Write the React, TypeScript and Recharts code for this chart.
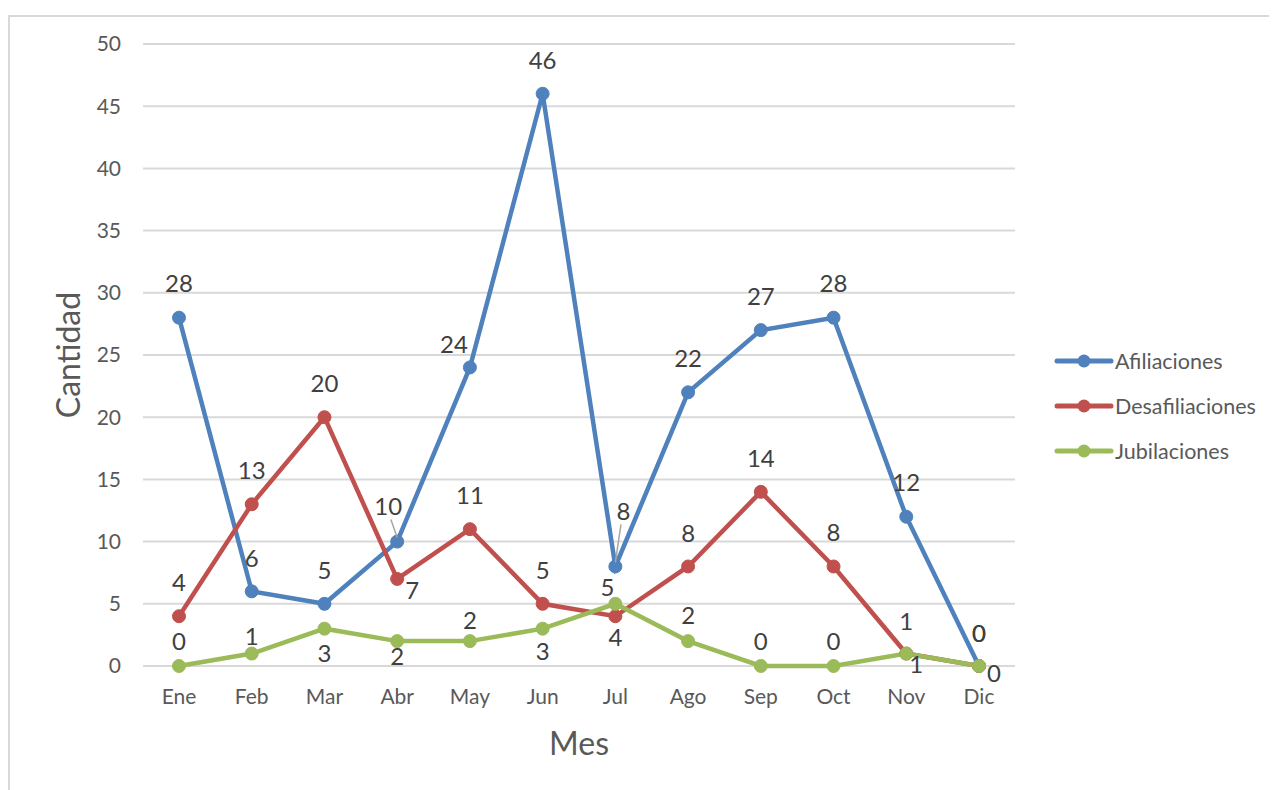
import React from "react";
import { LineChart, Line, XAxis, YAxis, CartesianGrid, LabelList, Label } from "recharts";

const months = ["Ene", "Feb", "Mar", "Abr", "May", "Jun", "Jul", "Ago", "Sep", "Oct", "Nov", "Dic"];
const afiliaciones = [28, 6, 5, 10, 24, 46, 8, 22, 27, 28, 12, 0];
const desafiliaciones = [4, 13, 20, 7, 11, 5, 4, 8, 14, 8, 1, 0];
const jubilaciones = [0, 1, 3, 2, 2, 3, 5, 2, 0, 0, 1, 0];
const yTicks = [0, 5, 10, 15, 20, 25, 30, 35, 40, 45, 50];

const data = months.map((mes, i) => ({
  mes,
  afiliaciones: afiliaciones[i],
  desafiliaciones: desafiliaciones[i],
  jubilaciones: jubilaciones[i],
}));

// label placement relative to each point [dx, dy, leader line]
const afilLabelPos: [number, number, boolean?][] = [
  [0, -35], [0, -34], [0, -34], [-9, -36, true], [-16, -24], [0, -34],
  [8, -56, true], [0, -35], [0, -35], [0, -35], [0, -35], [0, -34],
];
const desafLabelPos: [number, number, boolean?][] = [
  [0, -35], [0, -35], [0, -35], [15, 11], [0, -35], [0, -34],
  [0, 20], [0, -34], [0, -34], [0, -35], [10, 10], [15, 6],
];
const jubLabelPos: [number, number, boolean?][] = [
  [0, -26], [0, -18], [0, 24], [0, 14], [0, -22], [0, 22],
  [-8, -17], [0, -27], [0, -26], [0, -26], [0, -33], [0, -34],
];

const FONT = "Lato, 'Open Sans', sans-serif";
const BLUE = "#4f81bd";
const RED = "#c0504d";
const GREEN = "#9bbb59";

const series = [
  { key: "afiliaciones", name: "Afiliaciones", color: BLUE, pos: afilLabelPos },
  { key: "desafiliaciones", name: "Desafiliaciones", color: RED, pos: desafLabelPos },
  { key: "jubilaciones", name: "Jubilaciones", color: GREEN, pos: jubLabelPos },
];

const makeLabel = (pos: [number, number, boolean?][]) => (props: any) => {
  const { x, y, value, index } = props;
  const [dx, dy, leader] = pos[index] || [0, -34];
  return (
    <g>
      {leader && (
        <line x1={x + dx * 0.7} y1={y + dy + 14} x2={x} y2={y - 4} stroke="#a6a6a6" strokeWidth={1.5} />
      )}
      <text
        x={x + dx}
        y={y + dy}
        textAnchor="middle"
        dominantBaseline="central"
        fontSize={24}
        fontFamily={FONT}
        fill="#404040"
      >
        {value}
      </text>
    </g>
  );
};

const App = () => {
  return (
    <div style={{ position: "relative", width: 1269, height: 782, overflow: "hidden" }}>
      <div
        style={{
          position: "absolute",
          left: 0,
          top: 7,
          width: 1400,
          height: 900,
          borderTop: "2px solid #d9d9d9",
          borderLeft: "2px solid #d9d9d9",
        }}
      />
      <div style={{ position: "absolute", left: 0, top: 0 }}>
        <LineChart
          width={1269}
          height={782}
          data={data}
          margin={{ top: 36, right: 262, bottom: 64, left: 0 }}
        >
          <CartesianGrid vertical={false} stroke="#d9d9d9" strokeWidth={2} />
          <XAxis
            dataKey="mes"
            height={60}
            padding={{ left: 36, right: 36 }}
            axisLine={false}
            tickLine={false}
            tickSize={0}
            tickMargin={23}
            tick={{ fontSize: 21, fontFamily: FONT, fill: "#595959" }}
          >
            <Label
              content={(p: any) => (
                <text
                  x={p.viewBox.x + p.viewBox.width / 2}
                  y={p.viewBox.y + 76}
                  textAnchor="middle"
                  dominantBaseline="central"
                  fontSize={32}
                  fontFamily={FONT}
                  fill="#595959"
                >
                  Mes
                </text>
              )}
            />
          </XAxis>
          <YAxis
            width={135}
            domain={[0, 50]}
            ticks={yTicks}
            interval={0}
            axisLine={false}
            tickLine={false}
            tickSize={0}
            tickMargin={22}
            tick={{ fontSize: 21, fontFamily: FONT, fill: "#595959" }}
          >
            <Label
              content={(p: any) => {
                const cx = p.viewBox.x + 59;
                const cy = p.viewBox.y + p.viewBox.height / 2;
                return (
                  <text
                    x={cx}
                    y={cy}
                    transform={`rotate(-90 ${cx} ${cy})`}
                    textAnchor="middle"
                    dominantBaseline="central"
                    fontSize={32}
                    fontFamily={FONT}
                    fill="#595959"
                  >
                    Cantidad
                  </text>
                );
              }}
            />
          </YAxis>
          {series.map((s) => (
            <Line
              key={s.key}
              type="linear"
              dataKey={s.key}
              name={s.name}
              stroke={s.color}
              strokeWidth={4.5}
              dot={{ r: 6.5, fill: s.color, stroke: s.color, strokeWidth: 1 }}
              isAnimationActive={false}
            />
          ))}
          {series.map((s) => (
            <Line
              key={s.key + "-labels"}
              type="linear"
              dataKey={s.key}
              stroke="none"
              dot={false}
              activeDot={false}
              legendType="none"
              isAnimationActive={false}
            >
              <LabelList dataKey={s.key} content={makeLabel(s.pos)} />
            </Line>
          ))}
        </LineChart>
      </div>
      <div style={{ position: "absolute", left: 1046, top: 330, fontFamily: FONT }}>
        {series.map((s) => (
          <div key={s.key} style={{ display: "flex", alignItems: "center", height: 45 }}>
            <svg width={60} height={18}>
              <line x1={3} y1={9} x2={57} y2={9} stroke={s.color} strokeWidth={5} strokeLinecap="round" />
              <circle cx={30} cy={9} r={6.5} fill={s.color} />
            </svg>
            <span style={{ fontSize: 21.5, color: "#595959", marginLeft: 1 }}>{s.name}</span>
          </div>
        ))}
      </div>
    </div>
  );
};

export default App;
